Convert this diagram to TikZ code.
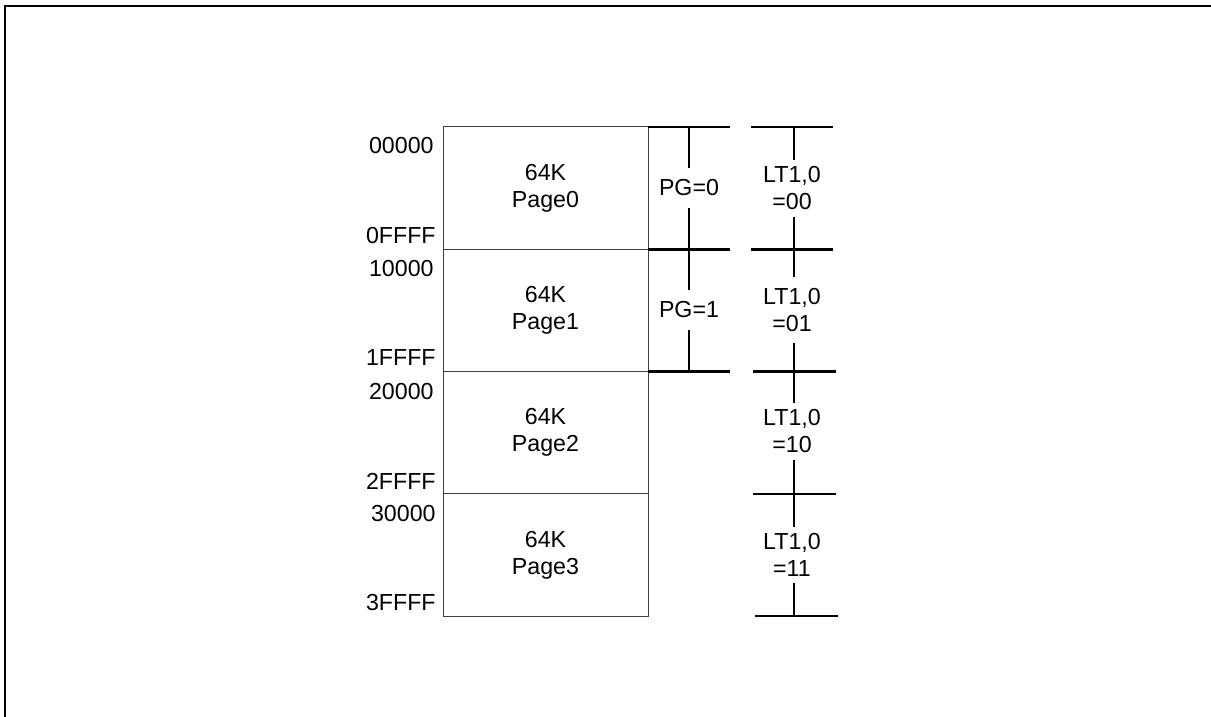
\documentclass[tikz,border=0pt]{standalone}
\usepackage{fontspec}
\setmainfont{Liberation Sans}
\begin{document}
\begin{tikzpicture}[x=0.5pt,y=-0.5pt,
  font=\fontsize{11.6pt}{13.5pt}\selectfont,
  page/.style={draw=black!75, line width=0.5pt, minimum width=102.5pt, minimum height=61.15pt, inner sep=0pt, align=center},
  addr/.style={anchor=east, inner sep=0pt},
  bar/.style={line width=1.2pt},
  pglbl/.style={inner sep=0pt, minimum height=20pt, align=center},
  ltlbl/.style={inner sep=0pt, align=center}]
\useasboundingbox (0,0) rectangle (1211,717);
\draw[line width=1pt] (5,717) -- (5,6) -- (1211,6);

% pages
\node[page] (p0) at (545.5,188.15) {64K\\Page0};
\node[page] (p1) at (545.5,310.45) {64K\\Page1};
\node[page] (p2) at (545.5,432.75) {64K\\Page2};
\node[page] (p3) at (545.5,555.05) {64K\\Page3};

% addresses
\node[addr] (a0) at (434,146) {00000};
\node[addr] (a1) at (436,236) {0FFFF};
\node[addr] (a2) at (434,269) {10000};
\node[addr] (a3) at (436,358) {1FFFF};
\node[addr] (a4) at (434,392) {20000};
\node[addr] (a5) at (436,481) {2FFFF};
\node[addr] (a6) at (436,514) {30000};
\node[addr] (a7) at (436,603) {3FFFF};

% PG column
\coordinate (g0) at (689,127);
\coordinate (g1) at (689,249.3);
\coordinate (g2) at (689,371.6);
\foreach \c in {g0,g1,g2}
  \draw[bar] ([xshift=-20.5pt]\c) -- ([xshift=20.5pt]\c);
\node[pglbl] (pg0) at (689,188) {PG=0};
\node[pglbl] (pg1) at (689,310) {PG=1};
\draw[bar] (g0) -- (pg0.north);
\draw[bar] (pg0.south) -- (g1) -- (pg1.north);
\draw[bar] (pg1.south) -- (g2);

% LT column
\coordinate (t0) at (794,127);
\coordinate (t1) at (794,249.3);
\coordinate (t2) at (794,371.6);
\coordinate (t3) at (794,494);
\coordinate (t4) at (794,616.2);
\draw[bar] (751,127) -- (833,127);
\draw[bar] (751,249.3) -- (833,249.3);
\draw[bar] (753,371.6) -- (836,371.6);
\draw[bar] (753,494) -- (836,494);
\draw[bar] (755,616.2) -- (838,616.2);
\node[ltlbl, minimum height=28.5pt] (lt0) at (792,188.5) {LT1,0\\=00};
\node[ltlbl, minimum height=33pt] (lt1) at (792,310) {LT1,0\\=01};
\node[ltlbl, minimum height=28.5pt] (lt2) at (792,431.5) {LT1,0\\=10};
\node[ltlbl, minimum height=28pt] (lt3) at (792,555) {LT1,0\\=11};
\draw[bar] (t0) -- (t0 |- lt0.north);
\draw[bar] (t1 |- lt0.south) -- (t1) -- (t1 |- lt1.north);
\draw[bar] (t2 |- lt1.south) -- (t2) -- (t2 |- lt2.north);
\draw[bar] (t3 |- lt2.south) -- (t3) -- (t3 |- lt3.north);
\draw[bar] (t4 |- lt3.south) -- (t4);
\end{tikzpicture}
\end{document}
